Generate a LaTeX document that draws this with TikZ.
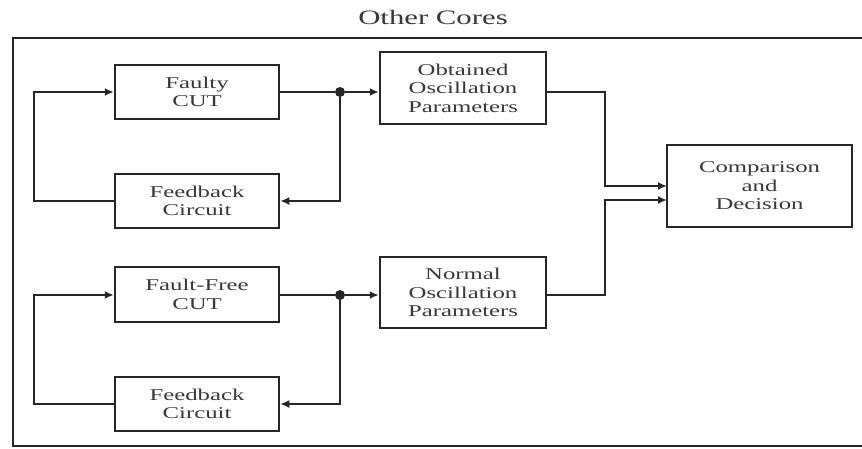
\documentclass[tikz,border=0pt]{standalone}
\usepackage{fontspec}
\setmainfont{Liberation Serif}[FakeStretch=1.5]
\usetikzlibrary{arrows.meta}
\definecolor{ink}{gray}{0.15}
\definecolor{txt}{gray}{0.22}
\begin{document}
\begin{tikzpicture}[x=1pt,y=-1pt,
  blk/.style={draw=ink,line width=2.5pt,minimum height=#1,inner sep=0pt,align=center,
    font=\fontsize{16.5}{18.5}\selectfont,text=txt},
  blk/.default=54pt,
  conn/.style={draw=ink,line width=2.5pt},
  arr/.style={conn,-{Latex[length=9pt,width=8pt]}},
  dotn/.style={circle,fill=ink,inner sep=0pt,minimum size=10pt}]
\useasboundingbox (0,0) rectangle (862,448);
\fill[white] (0,0) rectangle (862,448);
% frame and title
\draw[conn] (870,38) -- (13,38) -- (13,446) -- (870,446);
\node[font=\fontsize{20.5}{24}\selectfont,text=txt] (title) at (433,17) {Other Cores};
% blocks
\node[blk,minimum width=164pt] (fcut) at (197,92) {Faulty\\CUT};
\node[blk,minimum width=164pt] (fb1) at (197,201) {Feedback\\Circuit};
\node[blk=72pt,minimum width=166pt] (obt) at (463,88) {Obtained\\Oscillation\\Parameters};
\node[blk=55pt,minimum width=164pt] (ffcut) at (197,294.5) {Fault-Free\\CUT};
\node[blk,minimum width=164pt] (fb2) at (197,404) {Feedback\\Circuit};
\node[blk=71pt,minimum width=166pt] (norm) at (463,292.5) {Normal\\Oscillation\\Parameters};
\node[blk=82pt,minimum width=185pt] (comp) at (759.5,186) {Comparison\\and\\Decision};
% junctions
\node[dotn] (j1) at (340,92) {};
\node[dotn] (j2) at (340,295) {};
\coordinate (l1) at (34,92);
\coordinate (l2) at (34,295);
\coordinate (r1) at (605,92);
\coordinate (r2) at (605,295);
\coordinate (c1) at (667,186);
\coordinate (c2) at (667,200);
% upper loop
\draw[conn] (fcut.east |- j1) -- (j1);
\draw[arr] (j1) -- (obt.west |- j1);
\draw[arr] (j1) |- (fb1.east);
\draw[arr] (fb1.west) -| (l1) -- (fcut.west |- l1);
% lower loop
\draw[conn] (ffcut.east |- j2) -- (j2);
\draw[arr] (j2) -- (norm.west |- j2);
\draw[arr] (j2) |- (fb2.east);
\draw[arr] (fb2.west) -| (l2) -- (ffcut.west |- l2);
% to comparison
\draw[arr] (obt.east |- r1) -- (r1) |- (c1);
\draw[arr] (norm.east |- r2) -- (r2) |- (c2);
\end{tikzpicture}
\end{document}
